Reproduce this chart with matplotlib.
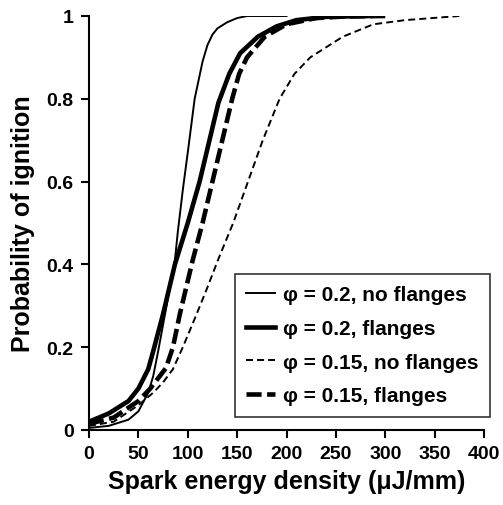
import matplotlib
matplotlib.use("Agg")
import matplotlib.pyplot as plt

plt.rcParams['font.family'] = ['Liberation Sans', 'DejaVu Sans']
plt.rcParams['font.weight'] = 'bold'

# phi = 0.2, no flanges
x_a = [0, 20, 40, 50, 60, 65, 70, 77, 87, 90, 95, 100, 107, 115, 120, 125, 130, 140, 150, 160, 200]
y_a = [0.005, 0.01, 0.025, 0.045, 0.09, 0.13, 0.19, 0.28, 0.41, 0.48, 0.58, 0.67, 0.80, 0.89, 0.93, 0.955, 0.97, 0.985, 0.995, 1.0, 1.0]

# phi = 0.2, flanges
x_b = [0, 20, 40, 50, 60, 65, 75, 87, 100, 112, 122, 131, 142, 153, 171, 190, 210, 240, 285]
y_b = [0.02, 0.04, 0.07, 0.10, 0.147, 0.19, 0.28, 0.40, 0.50, 0.60, 0.70, 0.79, 0.86, 0.91, 0.95, 0.975, 0.99, 0.998, 1.0]

# phi = 0.15, no flanges
x_c = [0, 25, 50, 65, 75, 85, 95, 109, 120, 131, 146, 161, 176, 193, 208, 224, 257, 288, 320, 375]
y_c = [0.01, 0.02, 0.06, 0.09, 0.115, 0.147, 0.20, 0.28, 0.345, 0.413, 0.50, 0.60, 0.70, 0.80, 0.86, 0.90, 0.95, 0.98, 0.99, 1.0]

# phi = 0.15, flanges
x_d = [0, 25, 50, 62, 70, 78, 85, 92, 98, 105, 115, 125, 135, 145, 152, 160, 178, 200, 230, 260, 300]
y_d = [0.015, 0.03, 0.07, 0.10, 0.125, 0.15, 0.20, 0.28, 0.34, 0.41, 0.50, 0.60, 0.70, 0.80, 0.86, 0.90, 0.95, 0.98, 0.995, 0.999, 1.0]

labels = ["\u03c6 = 0.2, no flanges", "\u03c6 = 0.2, flanges",
          "\u03c6 = 0.15, no flanges", "\u03c6 = 0.15, flanges"]
x_ticks = [0, 50, 100, 150, 200, 250, 300, 350, 400]
y_ticks = [0, 0.2, 0.4, 0.6, 0.8, 1.0]
y_ticklabels = ["0", "0.2", "0.4", "0.6", "0.8", "1"]

fig = plt.figure(figsize=(5.03, 5.06), dpi=100)
ax = fig.add_axes([89/503, 75/506, 395/503, 414/506])

ax.plot(x_a, y_a, color='black', lw=1.4, label=labels[0])
ax.plot(x_b, y_b, color='black', lw=3.3, label=labels[1])
ax.plot(x_c, y_c, color='black', lw=1.4, label=labels[2], dashes=(3.6, 2.1))
ax.plot(x_d, y_d, color='black', lw=3.3, label=labels[3], dashes=(3.3, 1.2))

ax.set_xlim(0, 400)
ax.set_ylim(0, 1)
ax.set_xticks(x_ticks)
ax.set_yticks(y_ticks)
ax.set_yticklabels(y_ticklabels)
for s in ['top', 'right']:
    ax.spines[s].set_visible(False)
for s in ['left', 'bottom']:
    ax.spines[s].set_linewidth(1.5)
ax.tick_params(direction='out', length=6, width=1.5, labelsize=14, pad=5)
for t in ax.get_xticklabels() + ax.get_yticklabels():
    t.set_fontweight('bold')

ax.set_xlabel("Spark energy density (\u03bcJ/mm)", fontsize=18, fontweight='bold', labelpad=5)
ax.set_ylabel("Probability of ignition", fontsize=18, fontweight='bold', labelpad=8)

leg = ax.legend(loc='upper left', bbox_to_anchor=(235/503, 1 - 275/506),
                bbox_transform=fig.transFigure, fontsize=15, frameon=True,
                fancybox=False, edgecolor='black', handlelength=1.35,
                handletextpad=0.4, borderpad=0.55, labelspacing=0.7,
                borderaxespad=0)
leg.get_frame().set_linewidth(1.2)
for t in leg.get_texts():
    t.set_fontweight('bold')

fig.savefig("out.png", dpi=100)
